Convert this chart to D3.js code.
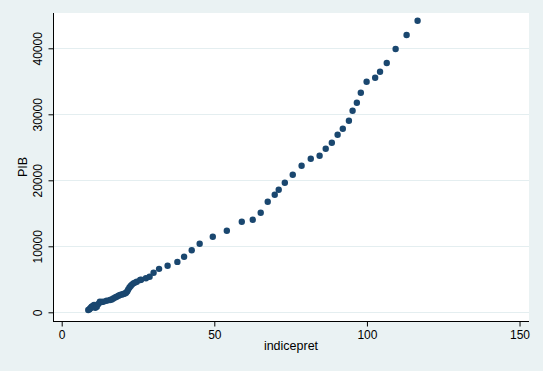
<!DOCTYPE html>
<html>
<head>
<meta charset="utf-8">
<script src="https://cdn.jsdelivr.net/npm/d3@7"></script>
<style>
  body { margin: 0; background: #eaf2f3; }
  svg { display: block; font-family: "Liberation Sans", Arial, sans-serif; }
</style>
</head>
<body>
<div id="container"></div>
<script>
// indicepret values (x) and PIB values (y)
var indicepret = [8.7, 9.1, 9.3, 9.6, 9.8, 10.2, 10.6, 11.0, 11.5, 12.0, 12.5, 13.0, 13.6, 14.7, 15.8, 16.4,
  16.9, 17.5, 18.0, 18.6, 19.1, 19.7, 20.2, 20.7, 21.1, 21.5, 21.8, 22.2, 22.6, 23.0, 23.5, 24.0, 24.6,
  25.7, 26.0, 27.6, 28.8, 30.1, 31.9, 34.7, 37.9, 40.1, 42.6, 45.2, 49.5, 54.1, 59.0, 62.6, 65.2, 67.5,
  69.8, 71.1, 73.1, 75.7, 78.6, 81.6, 84.5, 86.5, 88.5, 90.4, 92.1, 94.1, 95.3, 96.7, 98.0, 99.9,
  102.7, 104.3, 106.5, 109.4, 113.0, 116.6];
var pib = [350, 450, 600, 700, 850, 950, 1100, 700, 850, 1250, 1600, 1550, 1600, 1750, 1860, 1950,
  2100, 2250, 2360, 2500, 2620, 2700, 2770, 2850, 2970, 3200, 3480, 3750, 3980, 4200, 4390, 4500, 4640,
  4890, 4950, 5150, 5390, 6000, 6580, 7060, 7640, 8420, 9400, 10380, 11450, 12360, 13730, 14030, 15090, 16760,
  17820, 18570, 19630, 20850, 22210, 23270, 23730, 24790, 25700, 26910, 27820, 29030, 30540, 31760, 33270, 34940,
  35540, 36450, 37770, 39890, 42010, 44180];
var xTicks = [0, 50, 100, 150];
var yTicks = [0, 10000, 20000, 30000, 40000];

var W = 543, H = 371;
var plot = { left: 53, right: 529, top: 13, bottom: 321 };

var svg = d3.select("#container").append("svg")
  .attr("width", W)
  .attr("height", H);

svg.append("rect")
  .attr("width", W).attr("height", H)
  .attr("fill", "#eaf2f3");

svg.append("rect")
  .attr("x", plot.left).attr("y", plot.top)
  .attr("width", plot.right - plot.left)
  .attr("height", plot.bottom - plot.top)
  .attr("fill", "#ffffff");

var x = d3.scaleLinear()
  .domain([-2.85, 153.1])
  .range([plot.left, plot.right]);

var y = d3.scaleLinear()
  .domain([-1318, 45350])
  .range([plot.bottom, plot.top]);

// gridlines
svg.append("g").selectAll("line")
  .data(yTicks)
  .enter().append("line")
  .attr("x1", plot.left)
  .attr("x2", plot.right)
  .attr("y1", function (d) { return Math.round(y(d)) + 0.5; })
  .attr("y2", function (d) { return Math.round(y(d)) + 0.5; })
  .attr("stroke", "#e4eef0")
  .attr("stroke-width", 1);

// points
svg.append("g").selectAll("circle")
  .data(indicepret)
  .enter().append("circle")
  .attr("cx", function (d) { return x(d); })
  .attr("cy", function (d, i) { return y(pib[i]); })
  .attr("r", 3.2)
  .attr("fill", "#1a476f");

// axes
var xAxis = d3.axisBottom(x).tickValues(xTicks).tickFormat(d3.format("d"))
  .tickSize(5).tickSizeOuter(0).tickPadding(4);
var yAxis = d3.axisLeft(y).tickValues(yTicks).tickFormat(d3.format("d"))
  .tickSize(5).tickSizeOuter(0).tickPadding(0);

var gx = svg.append("g")
  .attr("transform", "translate(0," + (plot.bottom + 0.5) + ")")
  .call(xAxis);
gx.select(".domain").attr("d", "M" + plot.left + ",0H" + plot.right).attr("stroke", "#000");
gx.selectAll(".tick line").attr("stroke", "#000");
gx.selectAll(".tick text")
  .attr("font-size", 12)
  .attr("font-family", "Liberation Sans, Arial, sans-serif")
  .attr("fill", "#000");

var gy = svg.append("g")
  .attr("transform", "translate(" + (plot.left + 0.5) + ",0)")
  .call(yAxis);
gy.select(".domain").attr("d", "M0," + plot.top + "V" + (plot.bottom + 0.5)).attr("stroke", "#000");
gy.selectAll(".tick line").attr("stroke", "#000");
gy.selectAll(".tick text")
  .attr("font-size", 12)
  .attr("font-family", "Liberation Sans, Arial, sans-serif")
  .attr("fill", "#000")
  .attr("text-anchor", "middle")
  .attr("dy", null)
  .attr("x", null)
  .attr("transform", "translate(-11.5,0) rotate(-90)");

// axis titles
svg.append("text")
  .attr("x", (plot.left + plot.right) / 2)
  .attr("y", 350)
  .attr("text-anchor", "middle")
  .attr("font-size", 12.5)
  .text("indicepret");

svg.append("text")
  .attr("transform", "translate(27," + ((plot.top + plot.bottom) / 2) + ") rotate(-90)")
  .attr("text-anchor", "middle")
  .attr("font-size", 12.5)
  .text("PIB");
</script>
</body>
</html>
